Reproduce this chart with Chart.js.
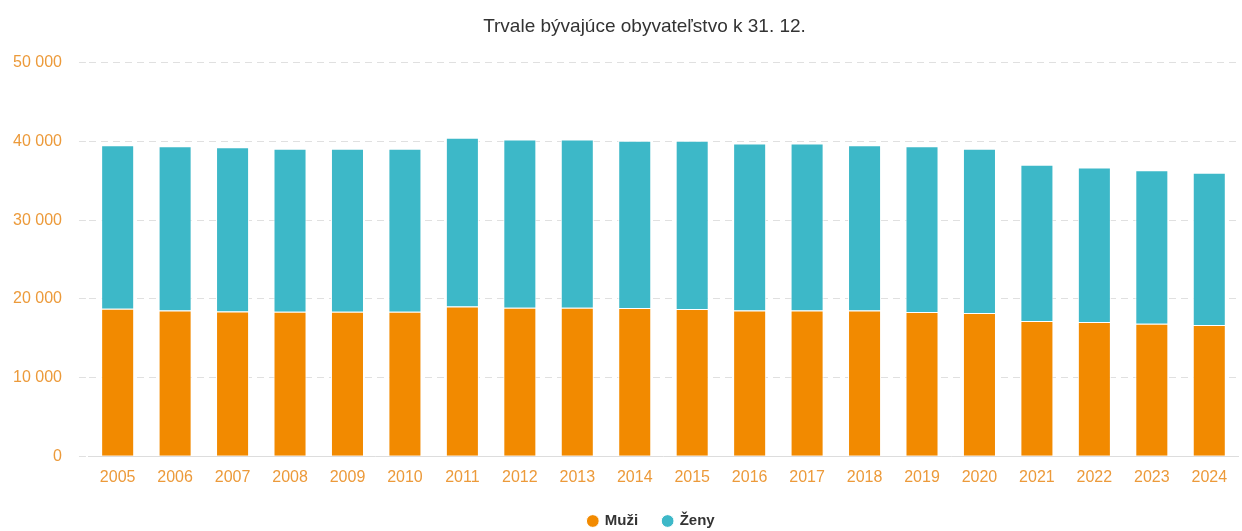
<!DOCTYPE html>
<html>
<head>
<meta charset="utf-8">
<script src="https://cdn.jsdelivr.net/npm/chart.js@4"></script>
<style>
  html, body { margin: 0; padding: 0; background: #fff; }
  #wrap { position: relative; width: 1242px; height: 531px; }
</style>
</head>
<body>
<div id="wrap"><canvas id="chart"></canvas></div>
<script>
// Population data
const years = ['2005', '2006', '2007', '2008', '2009', '2010', '2011', '2012', '2013', '2014',
               '2015', '2016', '2017', '2018', '2019', '2020', '2021', '2022', '2023', '2024'];
const muzi = [18750, 18540, 18410, 18370, 18370, 18370, 19050, 18880, 18880, 18830,
              18710, 18540, 18540, 18540, 18330, 18200, 17180, 17060, 16850, 16680];
const zeny = [20780, 20860, 20870, 20700, 20700, 20700, 21420, 21370, 21370, 21250,
              21370, 21210, 21210, 20990, 21070, 20870, 19860, 19640, 19510, 19340];
const yTicks = [0, 10000, 20000, 30000, 40000, 50000];

const tickColor = '#ec9a3a';
const fmt = v => String(v).replace(/\B(?=(\d{3})+(?!\d))/g, ' ');

// nudge title and legend horizontally to sit where the original has them
const nudge = {
    id: 'nudge',
    afterLayout(chart) {
        const t = chart.titleBlock, l = chart.legend;
        if (t) { t.left += 22; t.right += 22; }
        if (l) { l.left -= 12; l.right -= 12; }
    }
};

new Chart(document.getElementById('chart'), {
    type: 'bar',
    data: {
        labels: years,
        datasets: [
            { label: 'Muži', data: muzi, backgroundColor: '#f28a00', borderColor: '#ffffff', borderWidth: 1 },
            { label: 'Ženy', data: zeny, backgroundColor: '#3db8c8', borderColor: '#ffffff', borderWidth: 1 }
        ]
    },
    plugins: [nudge],
    options: {
        responsive: true,
        maintainAspectRatio: false,
        animation: false,
        layout: { padding: { left: 7, right: 4, top: 5, bottom: -7.5 } },
        datasets: { bar: { categoryPercentage: 1, barPercentage: 0.575 } },
        plugins: {
            title: {
                display: true,
                text: 'Trvale bývajúce obyvateľstvo k 31. 12.',
                color: '#333333',
                font: { family: 'Liberation Sans, Arial', size: 19, weight: 'normal' },
                padding: { top: 10, bottom: 25 }
            },
            legend: {
                position: 'bottom',
                fullSize: false,
                labels: {
                    usePointStyle: true,
                    pointStyle: 'circle',
                    boxWidth: 9,
                    boxHeight: 9,
                    padding: 25,
                    color: '#333333',
                    font: { family: 'Liberation Sans, Arial', size: 15, weight: 'bold' }
                }
            },
            tooltip: { enabled: false }
        },
        scales: {
            x: {
                stacked: true,
                grid: { display: false },
                border: { display: true, color: '#dddddd' },
                ticks: {
                    color: tickColor,
                    padding: 4,
                    font: { family: 'Liberation Sans, Arial', size: 16 }
                },
                afterFit: scale => { scale.height -= 3; }
            },
            y: {
                stacked: true,
                min: 0,
                max: 50000,
                afterBuildTicks: axis => { axis.ticks = yTicks.map(v => ({ value: v })); },
                afterFit: scale => { scale.width -= 11; },
                border: { display: false, dash: [7, 5] },
                grid: {
                    color: '#e0e0e0',
                    lineWidth: 1,
                    drawTicks: true,
                    tickLength: 10,
                    tickColor: '#e0e0e0',
                    tickBorderDash: [7, 5]
                },
                ticks: {
                    color: tickColor,
                    padding: 17,
                    font: { family: 'Liberation Sans, Arial', size: 16 },
                    callback: v => fmt(v)
                }
            }
        }
    }
});
</script>
</body>
</html>
